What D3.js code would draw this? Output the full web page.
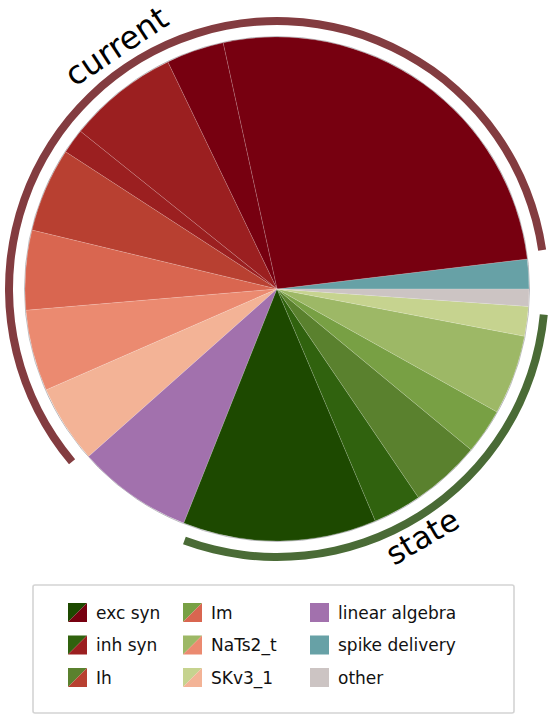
<!DOCTYPE html>
<html>
<head>
<meta charset="utf-8">
<script src="https://cdn.jsdelivr.net/npm/d3@7"></script>
<style>
  body { margin: 0; background: #fff; }
  svg { display: block; font-family: "DejaVu Sans", sans-serif; }
  .legend text { font-size: 17px; fill: #111; }
  .group-label { fill: #000; }
</style>
</head>
<body>
<svg id="chart" width="552" height="721"></svg>
<script>
// slices, counter-clockwise from 3 o'clock
const sliceLabels = ["spike delivery", "exc syn", "exc syn", "inh syn", "inh syn", "Ih", "Im", "NaTs2_t", "SKv3_1",
  "linear algebra", "exc syn", "inh syn", "Ih", "Im", "NaTs2_t", "SKv3_1", "other"];
const sliceKinds = ["", "current", "current", "current", "current", "current", "current", "current", "current",
  "", "state", "state", "state", "state", "state", "state", ""];
const sliceValues = [1.9, 26.5, 3.7, 7.1, 1.6, 5.4, 5.1, 5.2, 5.0, 7.4, 12.4, 3.1, 4.5, 2.9, 5.1, 1.9, 1.1];

const categories = ["exc syn", "inh syn", "Ih", "Im", "NaTs2_t", "SKv3_1", "linear algebra", "spike delivery", "other"];
const currentColors = ["#770010", "#9b1f20", "#b84031", "#d96650", "#eb8a70", "#f3b396"];
const stateColors = ["#1d4900", "#30620e", "#5a812e", "#78a044", "#9db866", "#c6d38f"];
const plainColors = { "linear algebra": "#a271ad", "spike delivery": "#67a1a6", "other": "#ccc4c3" };

const groups = ["current", "state"];
const groupColors = { current: "#833c40", state: "#4a6b36" };

const cx = 277, cy = 289, R = 252;
const ringIn = 264, ringOut = 272;
const deg = Math.PI / 180;

function sliceColor(i) {
  const lab = sliceLabels[i];
  const k = categories.indexOf(lab);
  if (sliceKinds[i] === "current") return currentColors[k];
  if (sliceKinds[i] === "state") return stateColors[k];
  return plainColors[lab];
}

const svg = d3.select("#chart");
const g = svg.append("g").attr("transform", `translate(${cx},${cy})`);

// d3 angles run clockwise from 12 o'clock; go the other way from 3 o'clock
const pie = d3.pie()
  .sort(null)
  .value((d) => d)
  .startAngle(Math.PI / 2)
  .endAngle(Math.PI / 2 - 2 * Math.PI);

const arcs = pie(sliceValues);
const arc = d3.arc().innerRadius(0).outerRadius(R);

g.append("circle")
  .attr("r", R + 0.5)
  .attr("fill", "none")
  .attr("stroke", "#b8b8bc")
  .attr("stroke-width", 1);

g.selectAll(".slice")
  .data(arcs)
  .enter()
  .append("path")
  .attr("class", "slice")
  .attr("d", arc)
  .attr("fill", (d, i) => sliceColor(i))
  .attr("stroke", "#ffffff")
  .attr("stroke-opacity", 0.35)
  .attr("stroke-width", 0.4);

// outer rings for the current / state groups
const ring = d3.arc().innerRadius(ringIn).outerRadius(ringOut);
const pad = 1.5 * deg;
const labelAngle = { current: 123.5, state: 300.4 }; // math degrees
const labelRadius = { current: 280, state: 298 };
const labelSize = { current: 32, state: 31 };

groups.forEach((grp) => {
  const idx = d3.range(sliceKinds.length).filter((i) => sliceKinds[i] === grp);
  const a0 = arcs[idx[0]].startAngle - pad;
  const a1 = arcs[idx[idx.length - 1]].endAngle + pad;
  g.append("path")
    .attr("d", ring({ startAngle: a0, endAngle: a1 }))
    .attr("fill", groupColors[grp]);

  const th = labelAngle[grp] * deg;
  const x = labelRadius[grp] * Math.cos(th);
  const y = -labelRadius[grp] * Math.sin(th);
  const rot = grp === "current" ? -(labelAngle[grp] - 90) : -(labelAngle[grp] - 270);
  g.append("text")
    .attr("class", "group-label")
    .attr("transform", `translate(${x},${y}) rotate(${rot})`)
    .attr("text-anchor", "middle")
    .style("font-size", labelSize[grp] + "px")
    .text(grp);
});

// legend
const legend = svg.append("g").attr("class", "legend");
legend.append("rect")
  .attr("x", 33).attr("y", 585)
  .attr("width", 481).attr("height", 128)
  .attr("rx", 2)
  .attr("fill", "#fff")
  .attr("stroke", "#d4d4d4")
  .attr("stroke-width", 1.6);

const colX = [68, 183, 310];
const rowY = [603, 635.5, 668];
const sw = 19;

categories.forEach((cat, k) => {
  const x = colX[Math.floor(k / 3)];
  const y = rowY[k % 3];
  const item = legend.append("g").attr("transform", `translate(${x},${y})`);
  if (k < 6) {
    item.append("path").attr("d", `M0,0H${sw}L0,${sw}Z`).attr("fill", stateColors[k]);
    item.append("path").attr("d", `M${sw},0V${sw}H0Z`).attr("fill", currentColors[k]);
  } else {
    item.append("rect").attr("width", sw).attr("height", sw).attr("fill", plainColors[cat]);
  }
  item.append("text")
    .attr("x", sw + 9)
    .attr("y", sw / 2 + 6)
    .text(cat);
});
</script>
</body>
</html>
